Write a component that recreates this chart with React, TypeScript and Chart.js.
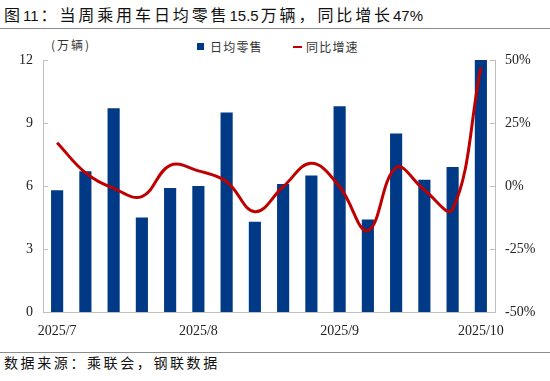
import React, { useEffect, useRef } from "react";
import { Chart, registerables } from "chart.js";

Chart.register(...registerables);

const weeks = [
  "07W1", "07W2", "07W3", "07W4", "07W5",
  "08W1", "08W2", "08W3", "08W4", "08W5",
  "09W1", "09W2", "09W3", "09W4", "09W5",
  "10W1",
];
const dailyRetail = [5.8, 6.7, 9.7, 4.5, 5.9, 6.0, 9.5, 4.3, 6.1, 6.5, 9.8, 4.4, 8.5, 6.3, 6.9, 12.0];
const yoyGrowth = [17.2, 5.3, -0.9, -4.2, 8.2, 6.0, 1.7, -10.2, -0.3, 9.0, -0.3, -17.7, 7.3, -1.6, -9.3, 47.1];
const monthTickIndex = [0, 5, 10, 15];
const monthTickLabels = ["2025/7", "2025/8", "2025/9", "2025/10"];
const leftTicks = [0, 3, 6, 9, 12];
const rightTicks = [-50, -25, 0, 25, 50];

const AXIS = "#BFBFBF";
const BLUE = "#003A87";
const RED = "#C00000";
const CJK = '"Noto Sans CJK SC", sans-serif';
const SERIF = '"Liberation Serif", "DejaVu Serif", serif';
const DIGITS = '"Liberation Sans", Arial, sans-serif';

const innerTicks = {
  id: "innerTicks",
  afterDatasetsDraw(chart: any) {
    const { ctx, chartArea, scales } = chart;
    ctx.save();
    ctx.strokeStyle = AXIS;
    ctx.lineWidth = 1;
    const y = scales.y;
    y.ticks.forEach((t: any) => {
      const py = Math.round(y.getPixelForValue(t.value)) + 0.5;
      ctx.beginPath();
      ctx.moveTo(chartArea.left, py);
      ctx.lineTo(chartArea.left + 5, py);
      ctx.stroke();
    });
    const y1 = scales.y1;
    y1.ticks.forEach((t: any) => {
      const py = Math.round(y1.getPixelForValue(t.value)) + 0.5;
      ctx.beginPath();
      ctx.moveTo(chartArea.right - 5, py);
      ctx.lineTo(chartArea.right, py);
      ctx.stroke();
    });
    ctx.restore();
  },
};

export default function App() {
  const ref = useRef<HTMLCanvasElement | null>(null);

  useEffect(() => {
    if (!ref.current) return;
    const chart = new Chart(ref.current, {
      type: "bar",
      data: {
        labels: weeks,
        datasets: [
          {
            type: "bar",
            label: "日均零售",
            data: dailyRetail,
            backgroundColor: BLUE,
            barPercentage: 0.43,
            categoryPercentage: 1,
            yAxisID: "y",
            order: 2,
          },
          {
            type: "line",
            label: "同比增速",
            data: yoyGrowth,
            borderColor: RED,
            backgroundColor: RED,
            borderWidth: 3,
            tension: 0.4,
            pointRadius: 0,
            fill: false,
            yAxisID: "y1",
            order: 1,
          } as any,
        ],
      },
      options: {
        animation: false,
        responsive: false,
        devicePixelRatio: 1,
        layout: { padding: { top: 24, bottom: 0, left: 0, right: 0 } },
        plugins: {
          legend: { display: false },
          tooltip: { enabled: false },
          title: { display: false },
        },
        scales: {
          x: {
            grid: { display: false, drawTicks: false },
            border: { display: true, color: AXIS, width: 1 },
            ticks: {
              autoSkip: false,
              maxRotation: 0,
              padding: 11,
              color: "#222",
              font: { family: SERIF, size: 14 },
              callback: (_v: any, i: number) => {
                const k = monthTickIndex.indexOf(i);
                return k >= 0 ? monthTickLabels[k] : "";
              },
            },
            afterFit: (s: any) => {
              s.height = 34;
            },
          },
          y: {
            position: "left",
            min: 0,
            max: 12,
            grid: { display: false, drawTicks: false },
            border: { display: true, color: AXIS, width: 1 },
            ticks: {
              stepSize: 3,
              padding: 10,
              color: "#222",
              font: { family: SERIF, size: 14 },
              callback: (v: any) => (leftTicks.includes(v) ? String(v) : ""),
            },
            afterFit: (s: any) => {
              s.width = 43;
            },
          },
          y1: {
            position: "right",
            min: -50,
            max: 50,
            grid: { display: false, drawTicks: false },
            border: { display: true, color: AXIS, width: 1 },
            ticks: {
              stepSize: 25,
              padding: 10,
              color: "#222",
              font: { family: SERIF, size: 14 },
              callback: (v: any) => (rightTicks.includes(v) ? v + "%" : ""),
            },
            afterFit: (s: any) => {
              s.width = 55;
            },
          },
        },
      },
      plugins: [innerTicks],
    } as any);
    return () => chart.destroy();
  }, []);

  const cjkSeg = (t: string) => (
    <span style={{ fontFamily: CJK, fontSize: 16, letterSpacing: "2.9px" }}>{t}</span>
  );
  const digSeg = (t: string) => (
    <span style={{ fontFamily: DIGITS, fontSize: 15, letterSpacing: "0px", marginRight: 2 }}>{t}</span>
  );

  return (
    <div
      style={{
        position: "fixed",
        left: 0,
        top: 0,
        width: 550,
        height: 381,
        background: "#fff",
        overflow: "hidden",
        color: "#111",
      }}
    >
      <div style={{ position: "absolute", left: 4, top: 3, whiteSpace: "nowrap", lineHeight: "22px" }}>
        {cjkSeg("图")}
        {digSeg("11")}
        {cjkSeg("：当周乘用车日均零售")}
        {digSeg("15.5")}
        {cjkSeg("万辆，同比增长")}
        {digSeg("47%")}
      </div>
      <div style={{ position: "absolute", left: 0, top: 28, width: 550, height: 1, background: "#8c8c8c" }} />

      <div
        style={{
          position: "absolute",
          left: 51,
          top: 37,
          fontFamily: CJK,
          fontSize: 12,
          letterSpacing: "2px",
          lineHeight: "16px",
          color: "#333",
          whiteSpace: "nowrap",
        }}
      >
        (万辆)
      </div>

      <div style={{ position: "absolute", left: 197, top: 43, width: 7, height: 7, background: BLUE }} />
      <div
        style={{
          position: "absolute",
          left: 210,
          top: 39,
          fontFamily: CJK,
          fontSize: 12,
          letterSpacing: "1.2px",
          lineHeight: "16px",
          color: "#333",
          whiteSpace: "nowrap",
        }}
      >
        日均零售
      </div>
      <div style={{ position: "absolute", left: 293, top: 46, width: 9, height: 2, background: RED }} />
      <div
        style={{
          position: "absolute",
          left: 306,
          top: 39,
          fontFamily: CJK,
          fontSize: 12,
          letterSpacing: "1.2px",
          lineHeight: "16px",
          color: "#333",
          whiteSpace: "nowrap",
        }}
      >
        同比增速
      </div>

      <canvas
        ref={ref}
        width={550}
        height={310}
        style={{ position: "absolute", left: 0, top: 36, width: 550, height: 310 }}
      />

      <div style={{ position: "absolute", left: 0, top: 352, width: 550, height: 1, background: "#8c8c8c" }} />
      <div
        style={{
          position: "absolute",
          left: 4,
          top: 353,
          fontFamily: CJK,
          fontSize: 14,
          letterSpacing: "2.6px",
          lineHeight: "18px",
          color: "#111",
          whiteSpace: "nowrap",
        }}
      >
        数据来源：乘联会，钢联数据
      </div>
    </div>
  );
}
